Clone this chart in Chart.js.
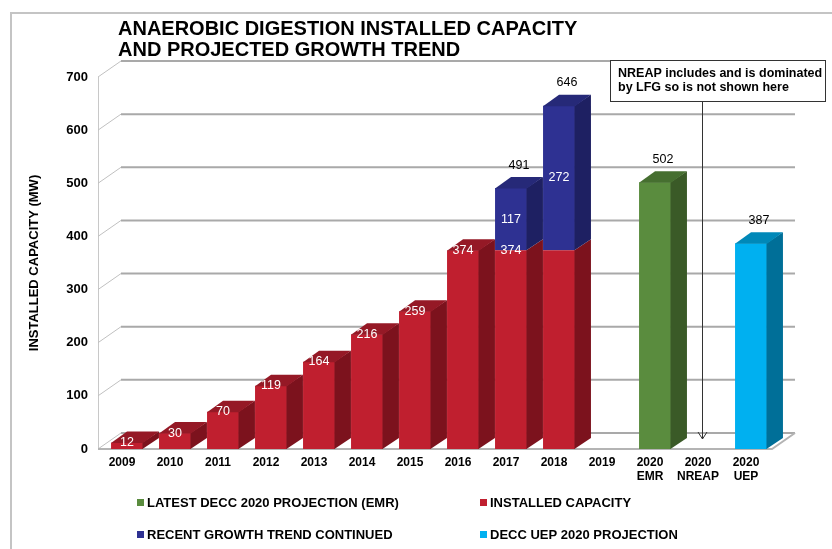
<!DOCTYPE html>
<html>
<head>
<meta charset="utf-8">
<script src="https://cdn.jsdelivr.net/npm/chart.js@4.4.0/dist/chart.umd.min.js"></script>
<style>
  html, body { margin: 0; padding: 0; background: #fff; }
  canvas { display: block; }
</style>
</head>
<body>
<canvas id="adChart" width="832" height="549"></canvas>
<script>
const categories = ["2009", "2010", "2011", "2012", "2013", "2014", "2015", "2016", "2017", "2018", "2019",
  ["2020", "EMR"], ["2020", "NREAP"], ["2020", "UEP"]];
const installed = [12, 30, 70, 119, 164, 216, 259, 374, 374, 374, null, null, null, null];
const trend = [null, null, null, null, null, null, null, null, 117, 272, null, null, null, null];
const emr = [null, null, null, null, null, null, null, null, null, null, null, 502, null, null];
const uep = [null, null, null, null, null, null, null, null, null, null, null, null, null, 387];
const yTicks = [0, 100, 200, 300, 400, 500, 600, 700];
// categories where the installed value is not printed in the original
const installedLabelHidden = ["2018"];

const chartTitle = ["ANAEROBIC DIGESTION INSTALLED CAPACITY", "AND PROJECTED GROWTH TREND"];
const noteText = ["NREAP includes and is dominated", "by LFG so is not shown here"];

const FONT = "'Liberation Sans', Arial, sans-serif";
Chart.defaults.font.family = FONT;
Chart.defaults.color = "#000";

// bar depth and wall depth for the fake 3D look
const BAR_DX = 16, BAR_DY = -11;
const WALL_DX = 23, WALL_DY = -16;

const frame3d = {
  id: "frame3d",
  beforeDraw(chart) {
    const ctx = chart.ctx;
    ctx.save();
    ctx.strokeStyle = "#c4c4c4";
    ctx.lineWidth = 2;
    ctx.strokeRect(11, 13, 840, 560);
    ctx.restore();
  },
  beforeDatasetsDraw(chart) {
    const ctx = chart.ctx;
    const y = chart.scales.y;
    const area = chart.chartArea;
    const x0 = 98;
    const xr = area.right - 3;
    ctx.save();
    // left wall edge
    ctx.strokeStyle = "#c8c8c8";
    ctx.lineWidth = 1;
    ctx.beginPath();
    ctx.moveTo(x0 + 0.5, y.getPixelForValue(700));
    ctx.lineTo(x0 + 0.5, y.getPixelForValue(0));
    ctx.stroke();
    yTicks.forEach((v) => {
      const py = y.getPixelForValue(v);
      ctx.strokeStyle = "#c0c0c0";
      ctx.lineWidth = 1;
      ctx.beginPath();
      ctx.moveTo(x0, py);
      ctx.lineTo(x0 + WALL_DX, py + WALL_DY);
      ctx.stroke();
      ctx.strokeStyle = "#a9a9a9";
      ctx.lineWidth = 2;
      ctx.beginPath();
      ctx.moveTo(x0 + WALL_DX, py + WALL_DY);
      ctx.lineTo(xr + WALL_DX, py + WALL_DY);
      ctx.stroke();
    });
    // floor
    const fy = y.getPixelForValue(0);
    ctx.strokeStyle = "#b4b4b4";
    ctx.lineWidth = 2;
    ctx.beginPath();
    ctx.moveTo(x0, fy);
    ctx.lineTo(xr, fy);
    ctx.lineTo(xr + WALL_DX, fy + WALL_DY);
    ctx.stroke();
    ctx.restore();
  },
  afterDatasetsDraw(chart) {
    const ctx = chart.ctx;
    const datasets = chart.data.datasets;
    ctx.save();
    for (let i = 0; i < categories.length; i++) {
      const segs = [];
      datasets.forEach((ds, d) => {
        const el = chart.getDatasetMeta(d).data[i];
        if (ds.data[i] == null || !el) return;
        segs.push({ ds, el });
      });
      segs.forEach((s, k) => {
        const { x, y, base, width } = s.el.getProps(["x", "y", "base", "width"], true);
        const l = x - width / 2, r = x + width / 2;
        ctx.fillStyle = s.ds.sideColor;
        ctx.beginPath();
        ctx.moveTo(r - 0.5, y);
        ctx.lineTo(r + BAR_DX, y + BAR_DY);
        ctx.lineTo(r + BAR_DX, base + BAR_DY);
        ctx.lineTo(r - 0.5, base);
        ctx.closePath();
        ctx.fill();
        if (k === segs.length - 1) {
          ctx.fillStyle = s.ds.topColor;
          ctx.beginPath();
          ctx.moveTo(l, y + 0.5);
          ctx.lineTo(l + BAR_DX, y + BAR_DY);
          ctx.lineTo(r + BAR_DX, y + BAR_DY);
          ctx.lineTo(r, y + 0.5);
          ctx.closePath();
          ctx.fill();
        }
      });

      // value labels
      ctx.font = "12.5px " + FONT;
      ctx.textAlign = "center";
      ctx.textBaseline = "middle";
      segs.forEach((s, k) => {
        const { x, y, base } = s.el.getProps(["x", "y", "base"], true);
        const key = categories[i];
        if (s.ds.key === "installed" && !installedLabelHidden.includes(key)) {
          ctx.fillStyle = "#fff";
          ctx.fillText(String(s.ds.data[i]), x, y);
        }
        if (s.ds.key === "trend") {
          ctx.fillStyle = "#fff";
          ctx.fillText(String(s.ds.data[i]), x, (y + base) / 2);
        }
        if (k === segs.length - 1 && s.ds.key !== "installed") {
          const total = segs.reduce((a, t) => a + t.ds.data[i], 0);
          ctx.fillStyle = "#000";
          ctx.fillText(String(total), x + BAR_DX / 2, y + BAR_DY - 12);
        }
      });
    }
    ctx.restore();
  },
  afterDraw(chart) {
    const ctx = chart.ctx;
    ctx.save();
    // title
    ctx.fillStyle = "#000";
    ctx.font = "bold 20px " + FONT;
    ctx.textAlign = "left";
    ctx.textBaseline = "middle";
    ctx.fillText(chartTitle[0], 118, 29);
    ctx.fillText(chartTitle[1], 118, 50);

    // note box with arrow
    ctx.fillStyle = "#fff";
    ctx.fillRect(610, 60, 216, 41);
    ctx.strokeStyle = "#333";
    ctx.lineWidth = 1;
    ctx.strokeRect(610.5, 60.5, 215, 41);
    ctx.fillStyle = "#000";
    ctx.font = "bold 12.5px " + FONT;
    ctx.fillText(noteText[0], 618, 74);
    ctx.fillText(noteText[1], 618, 88);
    ctx.beginPath();
    ctx.moveTo(702.5, 102);
    ctx.lineTo(702.5, 439);
    ctx.moveTo(698, 432);
    ctx.lineTo(702.5, 439);
    ctx.lineTo(707, 432);
    ctx.stroke();

    // legend, two columns
    const legendOrder = chart.data.datasets;
    const cols = [137, 480];
    const rows = [502, 534];
    ctx.font = "bold 13px " + FONT;
    legendOrder.forEach((ds, k) => {
      const cx = cols[k % 2];
      const cy = rows[Math.floor(k / 2)];
      ctx.fillStyle = ds.backgroundColor;
      ctx.fillRect(cx, cy - 3, 7, 7);
      ctx.fillStyle = "#000";
      ctx.fillText(ds.label, cx + 10, cy + 1);
    });
    ctx.restore();
  },
};

new Chart(document.getElementById("adChart"), {
  type: "bar",
  data: {
    labels: categories,
    datasets: [
      { key: "emr", label: "LATEST DECC 2020 PROJECTION (EMR)", data: emr,
        backgroundColor: "#5a8c3e", sideColor: "#3a5a27", topColor: "#466f30" },
      { key: "installed", label: "INSTALLED CAPACITY", data: installed,
        backgroundColor: "#c01f2f", sideColor: "#7c121d", topColor: "#951926" },
      { key: "trend", label: "RECENT GROWTH TREND CONTINUED", data: trend,
        backgroundColor: "#2e3192", sideColor: "#1e2062", topColor: "#262978" },
      { key: "uep", label: "DECC UEP 2020 PROJECTION", data: uep,
        backgroundColor: "#00b0f0", sideColor: "#006f98", topColor: "#0088b8" },
    ],
  },
  options: {
    responsive: false,
    animation: false,
    layout: { padding: { top: 77, right: 57, bottom: 0, left: 0 } },
    datasets: {
      bar: { categoryPercentage: 1, barPercentage: 0.665, borderWidth: 0 },
    },
    plugins: {
      legend: { display: false },
      title: { display: false },
      tooltip: { enabled: false },
    },
    scales: {
      x: {
        stacked: true,
        grid: { display: false, drawTicks: false },
        border: { display: false },
        ticks: { font: { size: 12, weight: "bold" }, labelOffset: -5, padding: 6, maxRotation: 0, autoSkip: false },
        afterFit(scale) { scale.height = 100; },
      },
      y: {
        stacked: true,
        min: 0,
        max: 700,
        grid: { display: false, drawTicks: false },
        border: { display: false },
        ticks: { stepSize: 100, font: { size: 13, weight: "bold" }, padding: 15 },
        title: {
          display: true,
          text: "INSTALLED CAPACITY (MW)",
          font: { size: 13, weight: "bold" },
          padding: { top: 27, bottom: 0 },
        },
        afterFit(scale) { scale.width = 103; },
      },
    },
  },
  plugins: [frame3d],
});
</script>
</body>
</html>
